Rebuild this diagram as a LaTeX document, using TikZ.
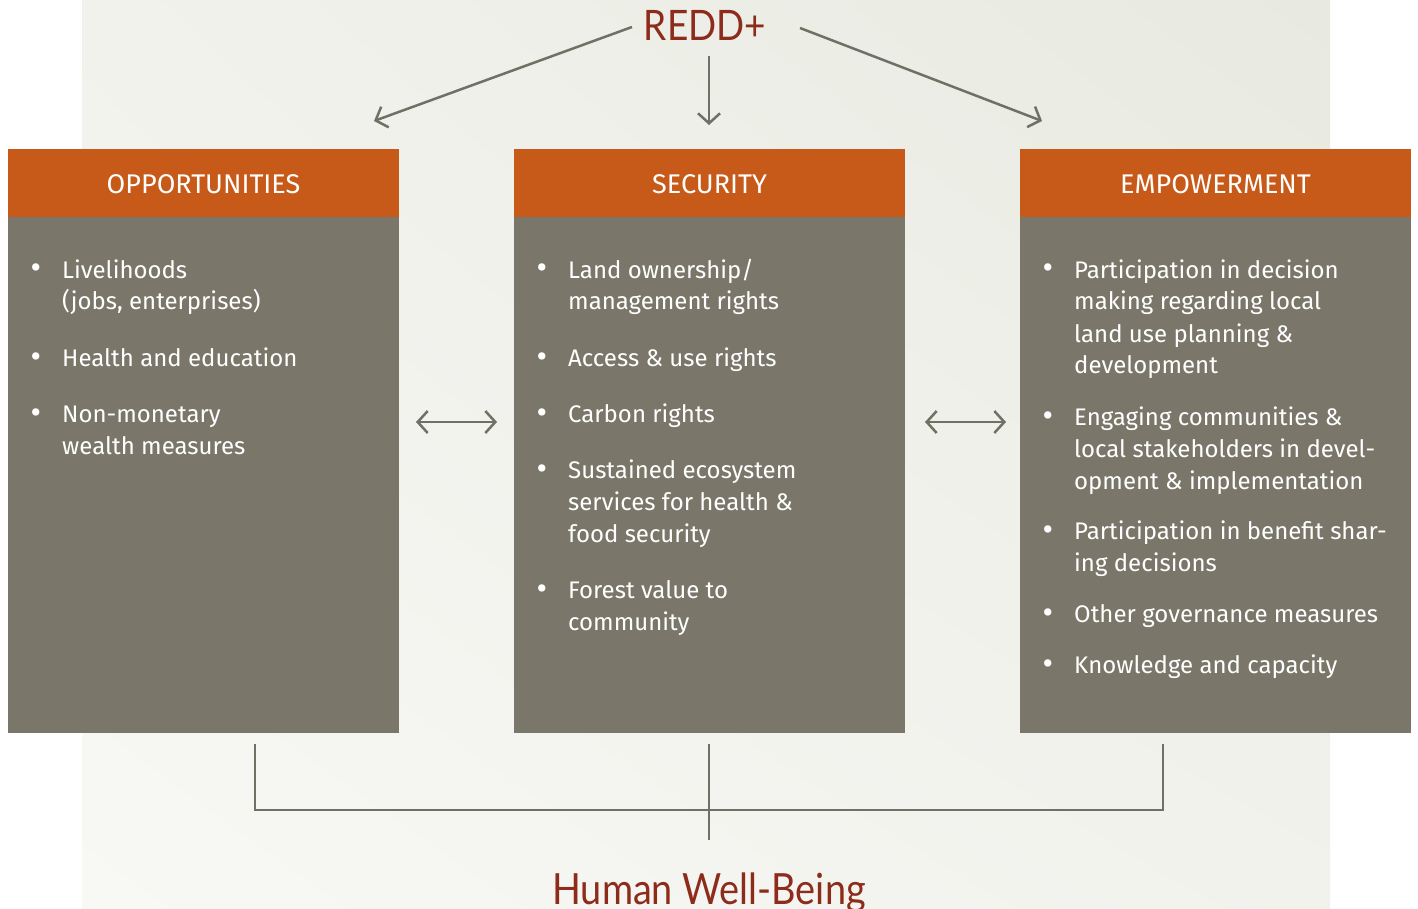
\documentclass[tikz,border=0pt]{standalone}
\usepackage{fontspec}
\setmainfont{Fira Sans}
\newfontfamily\condfont[FakeStretch=0.88]{Lato}
\usetikzlibrary{arrows.meta,shadings}
\definecolor{bgA}{HTML}{F8F8F5}
\definecolor{bgB}{HTML}{E8EAE1}
\definecolor{bgC}{HTML}{F1F2EC}
\definecolor{hdr}{HTML}{C75A18}
\definecolor{body}{HTML}{7A776A}
\definecolor{ttl}{HTML}{8E2C1C}
\definecolor{conn}{HTML}{717064}
\tikzset{
  hdrbox/.style={fill=hdr, draw=none},
  bodybox/.style={fill=body, draw=none},
  hdrtext/.style={text=white, font=\fontsize{27}{32}\selectfont, inner sep=0pt},
  itemtext/.style={text=white, font=\fontsize{24}{32}\selectfont, inner sep=0pt, anchor=base west},
  titletext/.style={text=ttl, inner sep=0pt},
  conline/.style={draw=conn, line width=2.5pt},
  arr/.style={conline, -{Straight Barb[length=10pt,width=22pt,line width=2.5pt]}},
  darr/.style={conline, {Straight Barb[length=10pt,width=22pt,line width=2.5pt]}-{Straight Barb[length=10pt,width=22pt,line width=2.5pt]}},
}
\newcommand{\bul}{\llap{\raisebox{-1pt}{\scalebox{1.35}{\textbullet}}\hspace{21pt}}}
\newcommand{\lns}[1]{\begin{tabular}[t]{@{}l@{}}#1\end{tabular}}
\begin{document}
\begin{tikzpicture}[x=1pt,y=-1pt]
\useasboundingbox (0,0) rectangle (1418,909);
\fill[white] (0,0) rectangle (1418,909);
\shade[lower left=bgA, upper right=bgB, upper left=bgC, lower right=bgC] (82,909) rectangle (1330,0);

% boxes
\foreach \x/\n in {8/o,514/s,1020/e}{
  \fill[bodybox] (\x,217) rectangle (\x+391,733);
  \fill[hdrbox] (\x,149) rectangle (\x+391,217);
}
\node[hdrtext] (ho) at (203.5,184) {OPPORTUNITIES};
\node[hdrtext] (hs) at (709.5,184) {SECURITY};
\node[hdrtext] (he) at (1215.5,184) {EMPOWERMENT};

% box anchors for connectors
\coordinate (otop) at (374,121);
\coordinate (stop) at (709,125);
\coordinate (etop) at (1042,121);

% titles
\node[titletext, anchor=base, font=\condfont\fontsize{42}{48}\selectfont] (redd) at (705,41) {REDD+};
\node[titletext, anchor=base, font=\condfont\fontsize{43}{48}\selectfont] (hwb) at (709,904) {Human Well-Being};

% left items
\node[itemtext] (o1) at (62,278) {\bul\lns{Livelihoods\\(jobs, enterprises)}};
\node[itemtext] (o2) at (62,366) {\bul Health and education};
\node[itemtext] (o3) at (62,422) {\bul\lns{Non-monetary\\wealth measures}};

% middle items
\node[itemtext] (s1) at (568,278) {\bul\lns{Land ownership/\\management rights}};
\node[itemtext] (s2) at (568,366) {\bul Access \& use rights};
\node[itemtext] (s3) at (568,422) {\bul Carbon rights};
\node[itemtext] (s4) at (568,478) {\bul\lns{Sustained ecosystem\\services for health \&\\food security}};
\node[itemtext] (s5) at (568,598) {\bul\lns{Forest value to\\community}};

% right items
\node[itemtext] (e1) at (1074,278) {\bul\lns{Participation in decision\\making regarding local\\land use planning \&\\development}};
\node[itemtext] (e2) at (1074,425) {\bul\lns{Engaging communities \&\\local stakeholders in devel-\\opment \& implementation}};
\node[itemtext] (e3) at (1074,539) {\bul\lns{Participation in benefit shar-\\ing decisions}};
\node[itemtext] (e4) at (1074,622) {\bul Other governance measures};
\node[itemtext] (e5) at (1074,673) {\bul Knowledge and capacity};

% top arrows
\coordinate (rl) at (632,27);
\coordinate (rm) at (709,56);
\coordinate (rr) at (800,28);
\draw[arr] (rl) -- (otop);
\draw[arr] (rm) -- (stop);
\draw[arr] (rr) -- (etop);

% double arrows
\coordinate (d1a) at (416,422);
\coordinate (d1b) at (497,422);
\coordinate (d2a) at (925,422);
\coordinate (d2b) at (1006,422);
\draw[darr] (d1a) -- (d1b);
\draw[darr] (d2a) -- (d2b);

% bottom bracket
\coordinate (bl) at (255,744);
\coordinate (bm) at (709,744);
\coordinate (br) at (1163,744);
\coordinate (bc) at (709,840);
\draw[conline] (bl) |- (709,810) -| (br);
\draw[conline] (bm) -- (bc);
\end{tikzpicture}
\end{document}
